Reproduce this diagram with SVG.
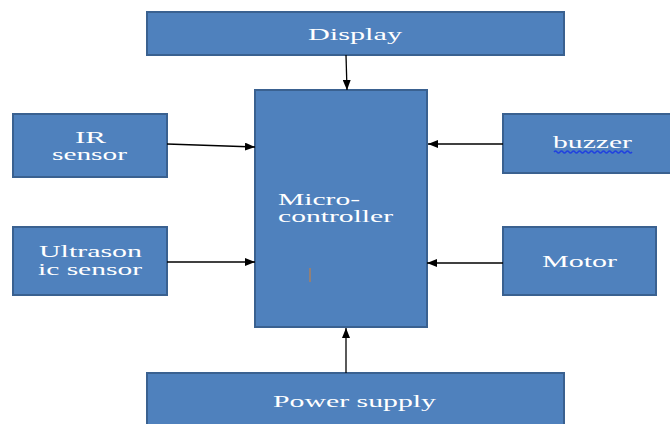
<svg xmlns="http://www.w3.org/2000/svg" width="670" height="424" viewBox="0 0 670 424">
<style>
.box{fill:#4f81bd;stroke:#3a6190;stroke-width:2}
text{font-family:'Liberation Serif','DejaVu Serif','Times New Roman',serif;font-size:16px;fill:#ffffff}
.w{stroke:#000;stroke-width:1.3;fill:none;marker-end:url(#ah)}
</style>
<defs>
<marker id="ah" markerWidth="10" markerHeight="8" refX="10" refY="4" orient="auto" markerUnits="userSpaceOnUse">
<path d="M0,0 L10,4 L0,8 Z" fill="#000"/>
</marker>
</defs>
<rect width="670" height="424" fill="#fff"/>
<g id="display"><rect class="box" x="147" y="12" width="417" height="43"/><text x="308" y="40" textLength="94" lengthAdjust="spacingAndGlyphs">Display</text></g>
<g id="micro"><rect class="box" x="255" y="90" width="172" height="237"/><text x="278" y="205" textLength="82" lengthAdjust="spacingAndGlyphs">Micro-</text><text x="278" y="222" textLength="115" lengthAdjust="spacingAndGlyphs">controller</text><line x1="310" y1="268" x2="310" y2="282" stroke="#c0804a" stroke-width="1.2"/></g>
<g id="ir"><rect class="box" x="13" y="114" width="154" height="63"/><text x="75" y="143" textLength="31" lengthAdjust="spacingAndGlyphs">IR</text><text x="52" y="160" textLength="75" lengthAdjust="spacingAndGlyphs">sensor</text></g>
<g id="ultra"><rect class="box" x="13" y="227" width="154" height="68"/><text x="39" y="257" textLength="103" lengthAdjust="spacingAndGlyphs">Ultrason</text><text x="38" y="275" textLength="104" lengthAdjust="spacingAndGlyphs">ic sensor</text></g>
<g id="buzzer"><rect class="box" x="503" y="114" width="168" height="59"/><text x="553" y="148" textLength="79" lengthAdjust="spacingAndGlyphs">buzzer</text><path d="M554,152 q1.5,-2 3,0 t3,0 t3,0 t3,0 t3,0 t3,0 t3,0 t3,0 t3,0 t3,0 t3,0 t3,0 t3,0 t3,0 t3,0 t3,0 t3,0 t3,0 t3,0 t3,0 t3,0 t3,0 t3,0 t3,0 t3,0 t3,0" stroke="#2040e0" stroke-width="1.3" fill="none"/></g>
<g id="motor"><rect class="box" x="503" y="227" width="153" height="68"/><text x="542" y="267" textLength="75" lengthAdjust="spacingAndGlyphs">Motor</text></g>
<g id="power"><rect class="box" x="147" y="373" width="417" height="55"/><text x="273" y="407" textLength="163" lengthAdjust="spacingAndGlyphs">Power supply</text></g>
<g id="connectors">
<line class="w" x1="346" y1="55" x2="347" y2="90"/>
<line class="w" x1="167" y1="144" x2="255" y2="147"/>
<line class="w" x1="167" y1="262" x2="255" y2="262"/>
<line class="w" x1="503" y1="144" x2="428" y2="144"/>
<line class="w" x1="503" y1="263" x2="427" y2="263"/>
<line class="w" x1="346" y1="373" x2="346" y2="328"/>
</g>
</svg>
